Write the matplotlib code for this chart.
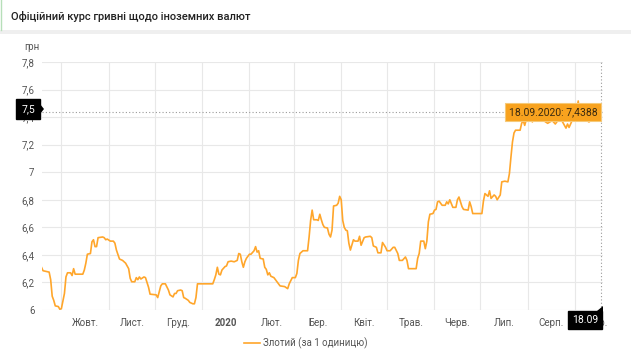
import datetime as dt

import matplotlib.pyplot as plt
import matplotlib.dates as mdates
from matplotlib.lines import Line2D
from matplotlib.patches import Rectangle, Polygon
from matplotlib.ticker import FixedLocator, NullFormatter

plt.rcParams['font.family'] = ['Roboto', 'DejaVu Sans']

# дані: дні від 18.09.2019 і курс злотого
start = dt.date(2019, 9, 18)
day_offsets = [
    0, 1, 5, 6, 7, 8, 9, 11, 12, 13, 15, 16, 17, 19, 20, 21, 22, 27, 28, 29,
    30, 32, 33, 34, 35, 36, 37, 40, 41, 42, 43, 45, 47, 48, 49, 51, 53, 55, 57, 58,
    59, 61, 62, 63, 64, 65, 67, 68, 70, 71, 75, 76, 78, 79, 81, 83, 84, 86, 87, 88,
    89, 91, 92, 93, 94, 96, 97, 99, 100, 101, 102, 112, 113, 114, 115, 116, 117, 118, 120, 121,
    122, 124, 126, 128, 129, 130, 131, 132, 133, 134, 136, 137, 139, 140, 141, 142, 143, 145, 146, 147,
    148, 149, 150, 152, 154, 155, 156, 159, 161, 162, 164, 166, 167, 168, 169, 171, 174, 175, 176, 177,
    178, 180, 181, 182, 183, 184, 185, 187, 188, 189, 190, 191, 193, 194, 195, 196, 197, 198, 199, 200,
    201, 202, 204, 205, 207, 208, 209, 211, 212, 215, 216, 217, 219, 220, 222, 223, 225, 226, 228, 230,
    231, 233, 234, 236, 238, 239, 240, 245, 246, 247, 248, 250, 251, 252, 253, 254, 256, 257, 258, 259,
    260, 262, 264, 265, 266, 267, 269, 271, 272, 273, 275, 276, 279, 280, 281, 282, 288, 289, 290, 292,
    293, 294, 296, 297, 298, 300, 301, 303, 305, 306, 307, 308, 309, 310, 313, 314, 315, 316, 317, 318,
    319, 320, 321, 322, 324, 326, 327, 329, 331, 334, 336, 338, 340, 342, 343, 344, 345, 347, 349, 351,
    352, 356, 358, 360, 362, 364, 365, 366,
]
rates = [
    6.31, 6.285, 6.275, 6.22, 6.10, 6.07, 6.03, 6.025, 6.005, 6.01, 6.12, 6.24, 6.27, 6.27, 6.25, 6.30, 6.26, 6.26, 6.29, 6.34,
    6.405, 6.41, 6.495, 6.51, 6.46, 6.46, 6.525, 6.53, 6.525, 6.51, 6.515, 6.50, 6.50, 6.485, 6.435, 6.37, 6.36, 6.34, 6.30, 6.23,
    6.205, 6.205, 6.235, 6.22, 6.24, 6.225, 6.24, 6.235, 6.165, 6.115, 6.11, 6.09, 6.175, 6.19, 6.19, 6.145, 6.11, 6.095, 6.12, 6.12,
    6.14, 6.145, 6.14, 6.09, 6.085, 6.07, 6.055, 6.045, 6.045, 6.09, 6.19, 6.19, 6.22, 6.255, 6.31, 6.26, 6.255, 6.29, 6.315, 6.32,
    6.35, 6.355, 6.35, 6.36, 6.41, 6.405, 6.35, 6.31, 6.35, 6.375, 6.405, 6.405, 6.43, 6.46, 6.42, 6.43, 6.375, 6.37, 6.31, 6.295,
    6.255, 6.27, 6.245, 6.235, 6.205, 6.19, 6.175, 6.17, 6.155, 6.19, 6.235, 6.235, 6.265, 6.36, 6.41, 6.43, 6.43, 6.53, 6.65, 6.725,
    6.655, 6.655, 6.65, 6.695, 6.655, 6.62, 6.60, 6.595, 6.55, 6.53, 6.58, 6.755, 6.76, 6.775, 6.825, 6.80, 6.65, 6.60, 6.58, 6.575,
    6.485, 6.435, 6.51, 6.50, 6.50, 6.535, 6.47, 6.525, 6.53, 6.535, 6.525, 6.465, 6.455, 6.415, 6.415, 6.49, 6.455, 6.43, 6.43, 6.455,
    6.455, 6.41, 6.36, 6.36, 6.385, 6.36, 6.30, 6.30, 6.375, 6.41, 6.50, 6.50, 6.445, 6.50, 6.64, 6.695, 6.70, 6.725, 6.73, 6.785,
    6.79, 6.76, 6.76, 6.785, 6.77, 6.80, 6.745, 6.745, 6.80, 6.82, 6.75, 6.73, 6.725, 6.785, 6.75, 6.70, 6.70, 6.79, 6.845, 6.825,
    6.865, 6.81, 6.835, 6.825, 6.80, 6.835, 6.93, 6.935, 6.93, 6.99, 7.11, 7.22, 7.285, 7.305, 7.305, 7.355, 7.375, 7.34, 7.38, 7.41,
    7.40, 7.42, 7.365, 7.395, 7.385, 7.42, 7.41, 7.37, 7.355, 7.375, 7.35, 7.38, 7.38, 7.34, 7.32, 7.35, 7.325, 7.375, 7.38, 7.517,
    7.40, 7.38, 7.365, 7.38, 7.40, 7.49, 7.45, 7.4388,
]

month_labels = ["Жовт.", "Лист.", "Груд.", "2020", "Лют.", "Бер.", "Квіт.",
                "Трав.", "Черв.", "Лип.", "Серп.", "Вер."]
y_ticks = [6, 6.2, 6.4, 6.6, 6.8, 7, 7.2, 7.4, 7.6, 7.8]
y_tick_labels = ["6", "6,2", "6,4", "6,6", "6,8", "7", "7,2", "7,4", "7,6", "7,8"]
title = "Офіційний курс гривні щодо іноземних валют"
series_name = "Злотий (за 1 одиницю)"
tooltip_text = "18.09.2020: 7,4388"
cursor_y_text = "7,5"
cursor_x_text = "18.09"

dates = [start + dt.timedelta(days=d) for d in day_offsets]

W, H = 631, 350
fig = plt.figure(figsize=(W / 100, H / 100), dpi=100)

# шапка
fig.text(11 / W, 1 - 16 / H, title, fontsize=8, fontweight='medium',
         color='#222222', va='center', ha='left')
fig.add_artist(Rectangle((0, 1 - 34 / H), 1, 4 / H, transform=fig.transFigure,
                         color='#efefef', lw=0))
fig.add_artist(Line2D([1 / W, 1 / W], [1, 1 - 30 / H], transform=fig.transFigure,
                      color='#b7dfb9', lw=1))

ax = fig.add_axes([41.5 / W, 1 - 310 / H, (603 - 41.5) / W, 248 / H])
ax.plot(dates, rates, color='#ffa62b', lw=1.2, zorder=3)

end_num = mdates.date2num(dates[-1])
ax.set_xlim(mdates.date2num(start), end_num + 1.2)
ax.set_ylim(6, 7.8)

# сітка по початках місяців, підписи посередині місяця
month_starts = [dt.date(2019 + (9 + i) // 12, (9 + i) % 12 + 1, 1) for i in range(13)]
ms_num = mdates.date2num(month_starts)
ax.xaxis.set_major_locator(FixedLocator(ms_num[:-1]))
ax.xaxis.set_major_formatter(NullFormatter())
mids = [(a + b) / 2 for a, b in zip(ms_num[:-1], ms_num[1:])]
ax.xaxis.set_minor_locator(FixedLocator(mids))
ax.set_xticks(mids, month_labels, minor=True)
for lbl in ax.get_xticklabels(minor=True):
    if lbl.get_text() == "2020":
        lbl.set_fontweight('bold')
        lbl.set_color('#333333')

ax.set_yticks(y_ticks, y_tick_labels)
ax.grid(True, which='major', color='#e8e8e8', lw=0.8)
ax.set_axisbelow(True)
for s in ax.spines.values():
    s.set_visible(False)
ax.tick_params(which='both', length=0, labelsize=7, colors='#555555')
ax.tick_params(axis='x', which='minor', pad=6)
ax.tick_params(axis='y', pad=5)

fig.text(24 / W, 1 - 47 / H, "грн", fontsize=7, color='#555555', va='center')

# курсор
ax.axhline(rates[-1], color='#9a9a9a', lw=0.8, ls=(0, (1, 2)), zorder=2)
ax.axvline(end_num, color='#9a9a9a', lw=0.8, ls=(0, (1, 2)), zorder=2)

fig.text(28 / W, 1 - 109 / H, cursor_y_text, fontsize=7.5, color='white',
         ha='center', va='center', zorder=10,
         bbox=dict(boxstyle='square,pad=0.45', fc='black', ec='black'))
fig.add_artist(Polygon([[40 / W, 1 - 104 / H], [44 / W, 1 - 109 / H], [40 / W, 1 - 114 / H]],
                       closed=True, transform=fig.transFigure, fc='black', ec='none'))

fig.text(585 / W, 1 - 320 / H, cursor_x_text, fontsize=7.5, color='white',
         ha='center', va='center', zorder=10,
         bbox=dict(boxstyle='square,pad=0.4', fc='black', ec='black'))
fig.add_artist(Polygon([[597 / W, 1 - 311 / H], [603 / W, 1 - 306 / H], [603 / W, 1 - 313 / H]],
                       closed=True, transform=fig.transFigure, fc='black', ec='none'))

fig.text(553 / W, 1 - 112 / H, tooltip_text, fontsize=7.5, color='#3a2a10',
         ha='center', va='center', zorder=10,
         bbox=dict(boxstyle='square,pad=0.4', fc='#f8a21e', ec='#f6c978', lw=0.8))

# легенда
fig.legend([Line2D([], [], color='#ffa62b', lw=1.2)], [series_name],
           loc='center', bbox_to_anchor=(306 / W, 1 - 343 / H), frameon=False,
           fontsize=7, handlelength=1.6, handletextpad=0.4, labelcolor='#555555')

fig.savefig('out.png', dpi=100)
